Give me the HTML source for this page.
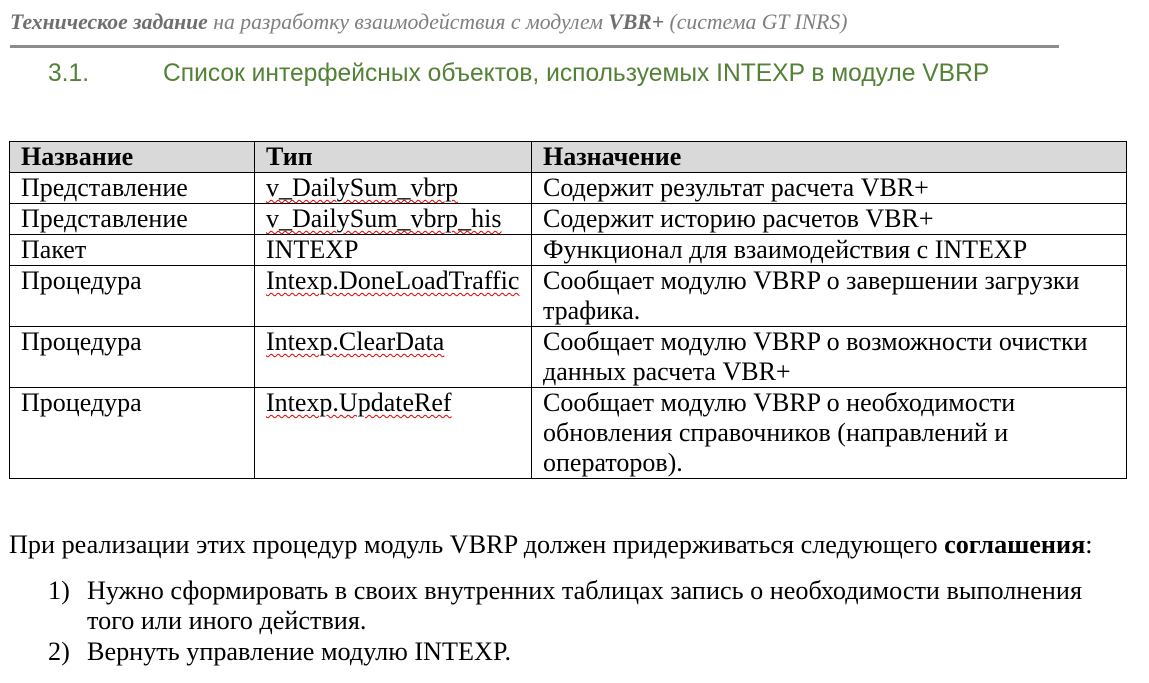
<!DOCTYPE html>
<html><head><meta charset="utf-8"><style>
body{margin:0;width:1149px;height:683px;background:#fff;position:relative;overflow:hidden;font-family:"Liberation Serif",serif;color:#000}
.a{position:absolute;white-space:nowrap}
.hdr{left:10px;top:8px;font-size:21.7px;line-height:28px;font-style:italic;color:#7f7f7f}
.hdr b{color:#6f6f6f}
.rule{position:absolute;left:10px;top:45px;width:1049px;height:3px;background:#8c8c8c}
.h{top:59px;font-family:"Liberation Sans",sans-serif;font-size:24.6px;line-height:30px;color:#538135}
table{position:absolute;left:9px;top:141px;border-collapse:collapse;font-size:26px;line-height:30px}
td{border:1px solid #000;padding:0 0 0 11px;vertical-align:top}
tr.th td{background:#d9d9d9;font-weight:bold;height:29px}
.w{text-decoration:underline wavy #e00000;text-decoration-thickness:1px;text-underline-offset:3px}
p{margin:0;position:absolute;font-size:26.2px;line-height:30px;white-space:nowrap}
</style></head><body>
<div class="a hdr"><b>Техническое задание</b> на разработку взаимодействия с модулем <b>VBR+</b> (система GT INRS)</div>
<div class="rule"></div>
<div class="a h" style="left:48px">3.1.</div>
<div class="a h" style="left:163px">Список интерфейсных объектов, используемых INTEXP в модуле VBRP</div>
<table>
<tr class="th"><td style="width:233px">Название</td><td style="width:265px">Тип</td><td style="width:583px">Назначение</td></tr>
<tr><td>Представление</td><td><span class="w">v_DailySum_vbrp</span></td><td>Содержит результат расчета VBR+</td></tr>
<tr><td>Представление</td><td><span class="w">v_DailySum_vbrp_his</span></td><td>Содержит историю расчетов VBR+</td></tr>
<tr><td>Пакет</td><td>INTEXP</td><td>Функционал для взаимодействия с INTEXP</td></tr>
<tr><td>Процедура</td><td><span class="w">Intexp.DoneLoadTraffic</span></td><td>Сообщает модулю VBRP о завершении загрузки<br>трафика.</td></tr>
<tr><td>Процедура</td><td><span class="w">Intexp.ClearData</span></td><td>Сообщает модулю VBRP о возможности очистки<br>данных расчета VBR+</td></tr>
<tr><td>Процедура</td><td><span class="w">Intexp.UpdateRef</span></td><td>Сообщает модулю VBRP о необходимости<br>обновления справочников (направлений и<br>операторов).</td></tr>
</table>
<p style="left:9px;top:530px">При реализации этих процедур модуль VBRP должен придерживаться следующего <b>соглашения</b>:</p>
<p style="left:48px;top:576px">1)</p>
<p style="left:87px;top:576px">Нужно сформировать в своих внутренних таблицах запись о необходимости выполнения</p>
<p style="left:87px;top:606px">того или иного действия.</p>
<p style="left:48px;top:637px">2)</p>
<p style="left:87px;top:637px">Вернуть управление модулю INTEXP.</p>
</body></html>
